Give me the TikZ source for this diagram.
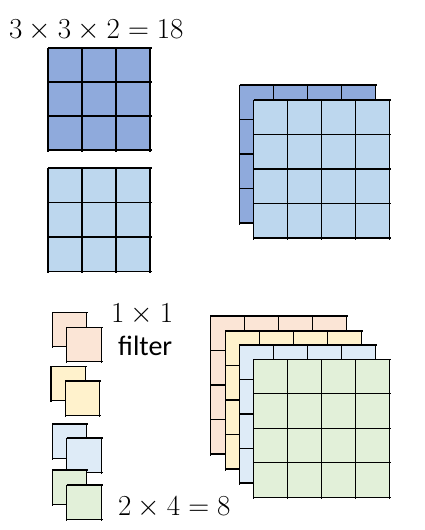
\RequirePackage{fix-cm}
\documentclass[tikz,border=0pt]{standalone}
\usepackage{fontspec}
\newfontfamily\calibri{Carlito}
\definecolor{darkblue}{HTML}{8FAADC}
\definecolor{lightblue}{HTML}{BDD7EE}
\definecolor{peach}{HTML}{FBE5D6}
\definecolor{paleyellow}{HTML}{FFF2CC}
\definecolor{paleblue}{HTML}{DEEBF7}
\definecolor{palegreen}{HTML}{E2F0D9}
\newcommand{\cellgrid}[7]{%
  \fill[#7] (#1,#2) rectangle ++({#3*#5},{#4*#6});
  \foreach \i in {0,...,#3} \draw[gridline] ({#1+\i*#5},#2) -- ++(0,{#4*#6+1.5});
  \foreach \j in {0,...,#4} \draw[gridline] (#1,{#2+\j*#6}) -- ++({#3*#5+1.5},0);
}
\begin{document}
\begin{tikzpicture}[x=1pt,y=-1pt,
  gridline/.style={black,line width=1.2pt},
  mathlabel/.style={anchor=base west,inner sep=0pt,font=\fontsize{29}{35}\selectfont},
  sanslabel/.style={anchor=base west,inner sep=0pt,font=\calibri\fontsize{28}{34}\selectfont}]
\useasboundingbox (0,0) rectangle (424,530);
% title
\node[mathlabel] (title) at (9,38) {$3\times3\times2=18$};
% top-left filters
\cellgrid{48}{48}{3}{3}{34}{34}{darkblue}
\cellgrid{48}{168}{3}{3}{34}{34.5}{lightblue}
% top-right stack
\cellgrid{239.5}{85}{4}{4}{34}{34.5}{darkblue}
\cellgrid{253.5}{100}{4}{4}{34}{34.5}{lightblue}
% small 1x1 filters
\cellgrid{52.3}{312.3}{1}{1}{34.5}{34.5}{peach}
\cellgrid{66.7}{327.3}{1}{1}{34.5}{34.5}{peach}
\cellgrid{51}{366.3}{1}{1}{34.5}{34.5}{paleyellow}
\cellgrid{65.3}{381}{1}{1}{34.5}{34.5}{paleyellow}
\cellgrid{52.3}{424}{1}{1}{34.5}{34.5}{paleblue}
\cellgrid{66.7}{438}{1}{1}{34.5}{34.5}{paleblue}
\cellgrid{52.3}{470}{1}{1}{34.5}{34.5}{palegreen}
\cellgrid{66.7}{485}{1}{1}{34.5}{34.5}{palegreen}
% bottom-right stack
\cellgrid{210.3}{316}{4}{4}{34}{34.5}{peach}
\cellgrid{225.3}{331}{4}{4}{34}{34.5}{paleyellow}
\cellgrid{239.3}{345}{4}{4}{34}{34.5}{paleblue}
\cellgrid{253.3}{359.3}{4}{4}{34}{34.5}{palegreen}
% labels
\node[mathlabel] (oneone) at (111,322) {$1\times1$};
\node[sanslabel] (filter) at (118,355) {filter};
\node[mathlabel] (count) at (118,515) {$2\times4=8$};
\end{tikzpicture}
\end{document}
